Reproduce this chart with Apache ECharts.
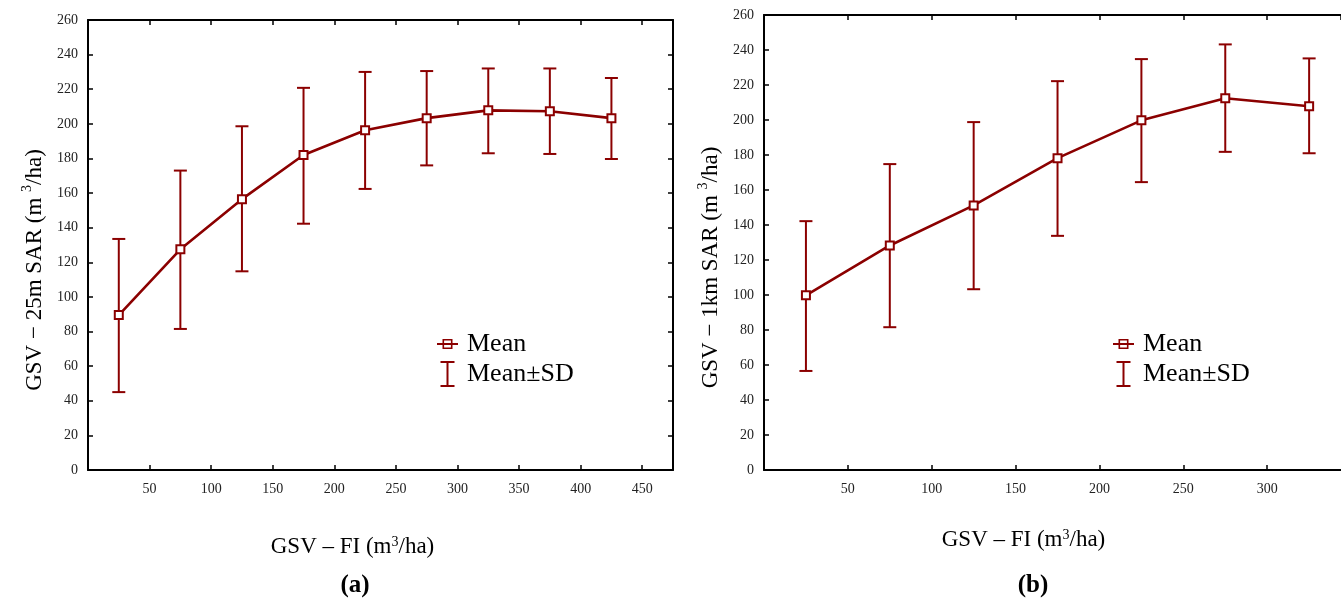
<!DOCTYPE html>
<html>
<head>
<meta charset="utf-8">
<script src="https://cdn.jsdelivr.net/npm/echarts@6/dist/echarts.min.js"></script>
<style>html,body{margin:0;padding:0;background:#fff;}#c{width:1341px;height:601px;}</style>
</head>
<body>
<div id="c"></div>
<script>
// ---- data (a): GSV-25m SAR vs GSV-FI ----
const xA = [25, 75, 125, 175, 225, 275, 325, 375, 425];
const meanA = [89.5, 127.5, 156.5, 182, 196.3, 203.3, 207.8, 207.3, 203.3];
const upA = [133.5, 173, 198.6, 220.8, 230, 230.5, 232, 232, 226.5];
const lowA = [45, 81.5, 114.8, 142.3, 162.4, 176, 183, 182.6, 179.7];
// ---- data (b): GSV-1km SAR vs GSV-FI ----
const xB = [25, 75, 125, 175, 225, 275, 325];
const meanB = [99.8, 128.3, 151.2, 178.2, 199.8, 212.4, 207.9];
const upB = [142.2, 174.8, 198.8, 222.2, 234.8, 243.2, 235.2];
const lowB = [56.6, 81.6, 103.3, 133.8, 164.5, 181.8, 181];
// ---- tick settings ----
const yTicksMax = 260, yTickStep = 20, xTickStep = 50;

const RED = '#8b0000';
const FONT = 'Liberation Serif';

const chart = echarts.init(document.getElementById('c'), null, {renderer: 'canvas'});

function errData(xs, up, low) { return xs.map((x, i) => [x, up[i], low[i]]); }
function meanData(xs, m) { return xs.map((x, i) => [x, m[i]]); }

function renderErr(params, api) {
  const x = api.value(0);
  const hi = api.coord([x, api.value(1)]);
  const lo = api.coord([x, api.value(2)]);
  const cap = 6.5;
  const st = {stroke: RED, lineWidth: 2};
  return {
    type: 'group',
    children: [
      {type: 'line', shape: {x1: hi[0], y1: hi[1], x2: lo[0], y2: lo[1]}, style: st},
      {type: 'line', shape: {x1: hi[0] - cap, y1: hi[1], x2: hi[0] + cap, y2: hi[1]}, style: st},
      {type: 'line', shape: {x1: lo[0] - cap, y1: lo[1], x2: lo[0] + cap, y2: lo[1]}, style: st}
    ]
  };
}

const axisLine = {show: true, onZero: false, lineStyle: {color: '#000', width: 2}};
const tick = {show: true, inside: true, length: 5, lineStyle: {color: '#000', width: 1.5}};
const lbl = {fontFamily: FONT, fontSize: 14, color: '#222'};

function xMain(grid, max, nameGap, shift) {
  return {
    type: 'value', gridIndex: grid, min: 0, max: max, interval: xTickStep, position: 'bottom',
    axisLine: axisLine, axisTick: tick, splitLine: {show: false},
    axisLabel: Object.assign({margin: 12, showMinLabel: false, showMaxLabel: false}, lbl),
    name: 'GSV – FI (m{sup|3}/ha)', nameLocation: 'middle', nameGap: nameGap,
    nameTextStyle: {fontFamily: FONT, fontSize: 23, color: '#000', padding: [0, shift, 0, 0],
      rich: {sup: {fontFamily: FONT, fontSize: 14, color: '#000', verticalAlign: 'top', padding: [0, 0, 10, 0]}}}
  };
}
function xMirror(grid, max) {
  return {
    type: 'value', gridIndex: grid, min: 0, max: max, interval: xTickStep, position: 'top',
    axisLine: axisLine, axisTick: tick, axisLabel: {show: false}, splitLine: {show: false}
  };
}
function yMain(grid, name, shift) {
  return {
    type: 'value', gridIndex: grid, min: 0, max: yTicksMax, interval: yTickStep, position: 'left',
    axisLine: axisLine, axisTick: tick, splitLine: {show: false},
    axisLabel: Object.assign({margin: 10}, lbl),
    name: name, nameLocation: 'middle', nameGap: 38,
    nameTextStyle: {fontFamily: FONT, fontSize: 23, color: '#000', padding: [0, shift, 0, 0],
      rich: {sup: {fontFamily: FONT, fontSize: 14, color: '#000', verticalAlign: 'top', padding: [0, 0, 16, 0]}}}
  };
}
function yMirror(grid, visible) {
  return {
    type: 'value', gridIndex: grid, min: 0, max: yTicksMax, interval: yTickStep, position: 'right',
    axisLine: Object.assign({}, axisLine, {show: visible}), axisTick: Object.assign({}, tick, {show: visible}),
    axisLabel: {show: false}, splitLine: {show: false}
  };
}

// legend icons drawn in a 21x26 box
const ibeam = 'path://M3.5,0 L17.5,0 L17.5,2 L11.5,2 L11.5,24 L17.5,24 L17.5,26 L3.5,26 L3.5,24 L9.5,24 L9.5,2 L3.5,2 Z';
const boxLine = 'path://M10.5,0 L10.51,0 L10.5,0.01 Z M10.5,26 L10.51,26 L10.5,25.99 Z ' +
  'M5.5,8 L15.5,8 L15.5,18 L5.5,18 Z M7.1,9.6 L7.1,16.4 L13.9,16.4 L13.9,9.6 Z ' +
  'M0,12 L21,12 L21,14 L0,14 Z';

function legend(left, top) {
  return {
    orient: 'vertical', left: left, top: top, itemWidth: 21, itemHeight: 26, itemGap: 4,
    textStyle: {fontFamily: FONT, fontSize: 26, color: '#000', padding: [0, 0, 0, 4]},
    data: [
      {name: 'Mean', icon: boxLine, itemStyle: {color: RED, borderWidth: 0}},
      {name: 'Mean±SD', icon: ibeam, itemStyle: {color: RED, borderWidth: 0}}
    ],
    selectedMode: false
  };
}

const option = {
  backgroundColor: '#fff',
  animation: false,
  title: [
    {text: '(a)', left: 350, top: 568, textAlign: 'center', textStyle: {fontFamily: FONT, fontSize: 25, fontWeight: 'bold', color: '#000'}},
    {text: '(b)', left: 1028, top: 568, textAlign: 'center', textStyle: {fontFamily: FONT, fontSize: 25, fontWeight: 'bold', color: '#000'}}
  ],
  grid: [
    {left: 88, top: 20, width: 585, height: 450},
    {left: 764, top: 15, width: 577, height: 455}
  ],
  legend: [legend(432, 326), legend(1108, 326)],
  xAxis: [xMain(0, 475, 65, 56), xMirror(0, 475), xMain(1, 344, 58, 58), xMirror(1, 344)],
  yAxis: [
    yMain(0, 'GSV − 25m SAR (m {sup|3}/ha)', 50), yMirror(0, true),
    yMain(1, 'GSV − 1km SAR (m {sup|3}/ha)', 50), yMirror(1, false)
  ],
  series: [
    {name: 'Mean±SD', type: 'custom', xAxisIndex: 0, yAxisIndex: 0, renderItem: renderErr,
     data: errData(xA, upA, lowA), encode: {x: 0, y: [1, 2]}, itemStyle: {color: RED}, z: 2},
    {name: 'Mean', type: 'line', xAxisIndex: 0, yAxisIndex: 0, data: meanData(xA, meanA),
     symbol: 'emptyRect', symbolSize: 8, showAllSymbol: true,
     lineStyle: {color: RED, width: 2.6}, itemStyle: {color: RED, borderColor: RED, borderWidth: 1.8}, z: 3},
    {name: 'Mean±SD', type: 'custom', xAxisIndex: 2, yAxisIndex: 2, renderItem: renderErr,
     data: errData(xB, upB, lowB), encode: {x: 0, y: [1, 2]}, itemStyle: {color: RED}, z: 2},
    {name: 'Mean', type: 'line', xAxisIndex: 2, yAxisIndex: 2, data: meanData(xB, meanB),
     symbol: 'emptyRect', symbolSize: 8, showAllSymbol: true,
     lineStyle: {color: RED, width: 2.6}, itemStyle: {color: RED, borderColor: RED, borderWidth: 1.8}, z: 3}
  ]
};
chart.setOption(option);
</script>
</body>
</html>
